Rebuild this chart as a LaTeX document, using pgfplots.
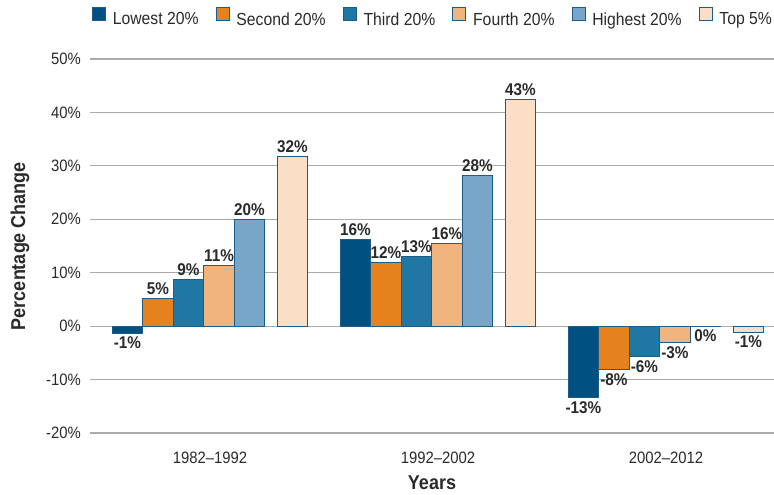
\documentclass[border=0pt]{standalone}
\usepackage{pgfplots}
\pgfplotsset{compat=1.18}
\usepackage{fontspec}
\setmainfont{Liberation Sans}[FakeStretch=0.9]
\definecolor{c1}{HTML}{005082}
\definecolor{c2}{HTML}{E6821E}
\definecolor{c3}{HTML}{1F77A4}
\definecolor{c4}{HTML}{F0B47C}
\definecolor{c5}{HTML}{78A6C8}
\definecolor{c6}{HTML}{FADFC6}
\definecolor{cb}{HTML}{1D5C86}
\definecolor{gridc}{HTML}{ABABAB}
\definecolor{txt}{HTML}{2A2A2A}
\pgfplotsset{
  barlab/.style={every node near coord/.append style={xshift=#1,
    anchor={\ifdim\rawy pt<0pt north\else south\fi}}},
}
\begin{document}
\begin{tikzpicture}
\begin{axis}[
  scale only axis, width=684pt, height=374pt,
  xmin=-0.5263, xmax=2.4737, ymin=-20, ymax=50,
  axis lines=left, axis line style={draw=none},
  major tick length=0pt,
  ymajorgrids, grid style={gridc, line width=1.1pt},
  xtick={0,1,2}, xticklabels={1982--1992,1992--2002,2002--2012},
  ytick={-20,-10,0,10,20,30,40,50},
  yticklabels={-20\%,-10\%,0\%,10\%,20\%,30\%,40\%,50\%},
  ticklabel style={font=\fontsize{16.5}{17}\selectfont, text=txt},
  yticklabel style={inner sep=0pt, anchor=east, xshift=-9pt},
  xticklabel style={inner sep=0pt, anchor=north, yshift=-19pt},
  xlabel={Years}, ylabel={Percentage Change},
  every axis x label/.style={at={(axis description cs:0.5,-0.1524)}, anchor=base, font=\bfseries\fontsize{20}{20}\selectfont, text=txt},
  every axis y label/.style={at={(axis description cs:-0.1023,0.5)}, anchor=center, rotate=90, font=\bfseries\fontsize{20}{20}\selectfont, text=txt},
  clip=false,
  nodes near coords, point meta=explicit symbolic,
  visualization depends on={rawy \as \rawy},
  nodes near coords style={font=\bfseries\fontsize{17}{17}\selectfont, text=txt},
  legend columns=-1,
  legend style={at={(axis description cs:0.5,1.1136)}, anchor=center, draw=none, fill=none,
    font=\fontsize{17.5}{18}\selectfont, text=txt,
    nodes={inner sep=0pt},
    /tikz/every even column/.append style={column sep=17pt},
    /tikz/every odd column/.append style={column sep=7pt}},
  legend image code/.code={\draw[#1, line width=0.8pt] (0pt,-0.5pt) rectangle (13pt,12.5pt);},
]
\addplot[ybar, bar width=30.5pt, bar shift=-82.5pt, fill=c1, draw=cb, line width=0.8pt, barlab=-82.5pt]
  coordinates {(0,-1.3) [-1\%] (1,16.3) [16\%] (2,-13.4) [-13\%]};
\addplot[ybar, bar width=30.5pt, bar shift=-52pt, fill=c2, draw=cb, line width=0.8pt, barlab=-52pt]
  coordinates {(0,5.1) [5\%] (1,11.9) [12\%] (2,-8.1) [-8\%]};
\addplot[ybar, bar width=30.5pt, bar shift=-21.5pt, fill=c3, draw=cb, line width=0.8pt, barlab=-21.5pt]
  coordinates {(0,8.7) [9\%] (1,13.0) [13\%] (2,-5.7) [-6\%]};
\addplot[ybar, bar width=30.5pt, bar shift=9pt, fill=c4, draw=cb, line width=0.8pt, barlab=9pt]
  coordinates {(0,11.3) [11\%] (1,15.5) [16\%] (2,-3.1) [-3\%]};
\addplot[ybar, bar width=30.5pt, bar shift=39.5pt, fill=c5, draw=cb, line width=0.8pt, barlab=39.5pt]
  coordinates {(0,19.9) [20\%] (1,28.2) [28\%] (2,-0.01) [0\%]};
\addplot[ybar, bar width=30.5pt, bar shift=82.5pt, fill=c6, draw=cb, line width=0.8pt, barlab=82.5pt]
  coordinates {(0,31.8) [32\%] (1,42.5) [43\%] (2,-1.1) [-1\%]};
\legend{Lowest 20\%, Second 20\%, Third 20\%, Fourth 20\%, Highest 20\%, Top 5\%}
\end{axis}
\pgfresetboundingbox
\useasboundingbox (-90pt,-62pt) rectangle (684pt,433pt);
\end{tikzpicture}
\end{document}
